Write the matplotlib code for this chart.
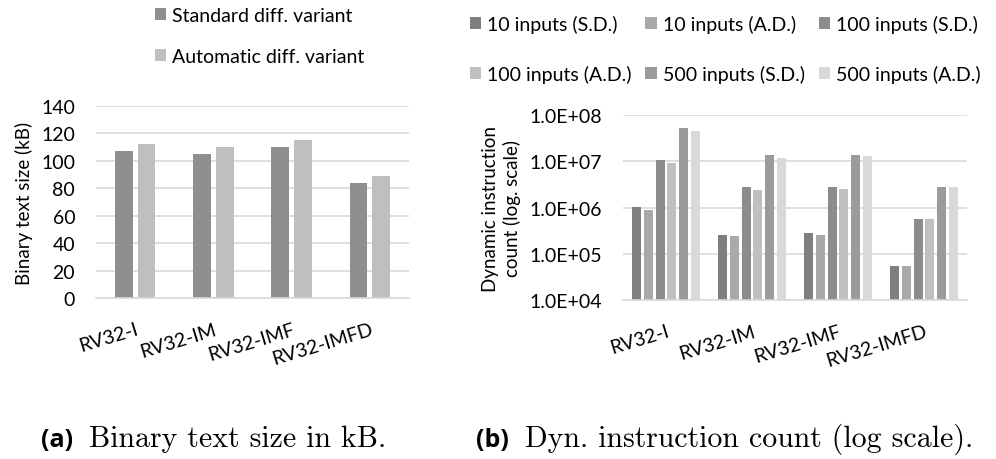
import numpy as np
import matplotlib
matplotlib.use('Agg')
import matplotlib.pyplot as plt
from matplotlib.ticker import NullLocator

plt.rcParams['font.family'] = ['Lato', 'DejaVu Sans']

# ---- data ----
archs = ['RV32-I', 'RV32-IM', 'RV32-IMF', 'RV32-IMFD']

size_labels = ['Standard diff. variant', 'Automatic diff. variant']
size_std = [107, 105, 110, 84]
size_auto = [112, 110, 115, 89]

count_labels = ['10 inputs (S.D.)', '10 inputs (A.D.)', '100 inputs (S.D.)',
                '100 inputs (A.D.)', '500 inputs (S.D.)', '500 inputs (A.D.)']
cnt_10_sd = [1.05e6, 2.6e5, 2.75e5, 5.5e4]
cnt_10_ad = [8.8e5, 2.45e5, 2.6e5, 5.5e4]
cnt_100_sd = [1.05e7, 2.75e6, 2.75e6, 5.6e5]
cnt_100_ad = [9.3e6, 2.4e6, 2.57e6, 5.6e5]
cnt_500_sd = [5.2e7, 1.38e7, 1.38e7, 2.75e6]
cnt_500_ad = [4.6e7, 1.2e7, 1.29e7, 2.75e6]

size_colors = ['#8f8f8f', '#bfbfbf']
count_colors = ['#7f7f7f', '#a9a9a9', '#8c8c8c', '#c0c0c0', '#9b9b9b', '#d9d9d9']
grid_c = '#d9d9d9'
fs = 14

fig = plt.figure(figsize=(9.96, 4.6), dpi=100)
axL = fig.add_axes([96/996, 1-299/460, 313/996, 192/460])
axR = fig.add_axes([623/996, 1-301/460, 344/996, 185/460])


def style(ax):
    for s in ['top', 'right', 'left']:
        ax.spines[s].set_visible(False)
    ax.spines['bottom'].set_color(grid_c)
    ax.spines['bottom'].set_linewidth(1.2)
    ax.yaxis.grid(True, color=grid_c, lw=1.2)
    ax.set_axisbelow(True)
    ax.tick_params(axis='both', length=0, labelsize=fs)
    ax.tick_params(axis='y', pad=15)
    ax.set_xlim(-0.5, len(archs)-0.5)
    ax.set_xticks(np.arange(len(archs)))
    ax.set_xticklabels(archs, rotation=17, ha='right', rotation_mode='anchor', fontsize=fs)
    ax.tick_params(axis='x', pad=16)


# ---- (a) binary size ----
x = np.arange(len(archs))
w, step = 0.225, 0.29
for i, (vals, lab) in enumerate(zip([size_std, size_auto], size_labels)):
    axL.bar(x + (i-0.5)*step, vals, width=w, color=size_colors[i], label=lab)
style(axL)
axL.set_ylim(0, 140)
axL.set_yticks(range(0, 141, 20))
axL.set_ylabel('Binary text size (kB)', fontsize=13.5, labelpad=6)
axL.legend(loc='upper left', bbox_to_anchor=(147/996, 1.0), bbox_transform=fig.transFigure,
           frameon=False, fontsize=fs, handlelength=0.6, handleheight=0.6,
           handletextpad=0.3, labelspacing=1.25, borderaxespad=0.0)

# ---- (b) instruction count ----
series = [cnt_10_sd, cnt_10_ad, cnt_100_sd, cnt_100_ad, cnt_500_sd, cnt_500_ad]
w2, step2 = 0.108, 0.136
for i, (vals, lab) in enumerate(zip(series, count_labels)):
    axR.bar(x + (i-2.5)*step2, vals, width=w2, color=count_colors[i], label=lab)
style(axR)
axR.set_yscale('log')
axR.set_ylim(1e4, 1e8)
ticks = [1e4, 1e5, 1e6, 1e7, 1e8]
axR.set_yticks(ticks)
axR.set_yticklabels(['1.0E+%02d' % int(np.log10(t)) for t in ticks])
axR.yaxis.set_minor_locator(NullLocator())
axR.set_ylabel('Dynamic instruction\ncount (log. scale)', fontsize=13.5, labelpad=6,
               linespacing=1.25)

h, l = axR.get_legend_handles_labels()
order = [0, 3, 1, 4, 2, 5]
axR.legend([h[k] for k in order], [l[k] for k in order], ncol=3,
           loc='upper left', bbox_to_anchor=(462/996, 1-8/460), bbox_transform=fig.transFigure,
           frameon=False, fontsize=fs, handlelength=0.6, handleheight=0.6,
           handletextpad=0.3, labelspacing=1.65, columnspacing=0.7, borderaxespad=0.0)

# ---- captions ----
fig.canvas.draw()
r = fig.canvas.get_renderer()
for xpos, tag, cap in [(41, '(a)', 'Binary text size in kB.'),
                       (476, '(b)', 'Dyn. instruction count (log scale).')]:
    t = fig.text(xpos/996, 1-447/460, tag, fontsize=18, fontweight='bold',
                 family=['Open Sans', 'DejaVu Sans'], va='baseline')
    x1 = t.get_window_extent(r).x1
    fig.text((x1 + 16)/996, 1-447/460, cap, fontsize=21.5, family='cmr10', va='baseline')

fig.savefig('out.png', dpi=100)
